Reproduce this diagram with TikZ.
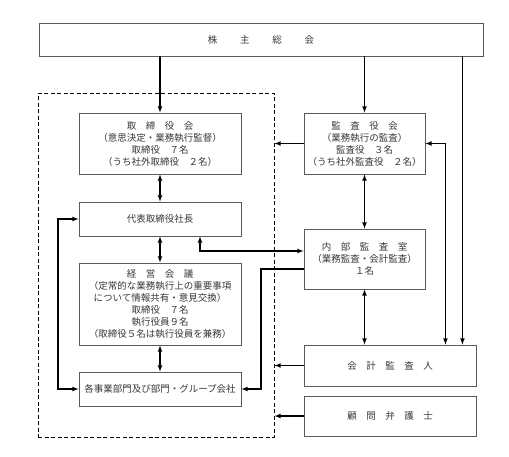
\documentclass[tikz,border=0pt]{standalone}
\usepackage{fontspec}
\setmainfont{Noto Sans CJK JP}
\usepackage{tikz}
\usetikzlibrary{positioning,arrows}

\definecolor{waku}{RGB}{90,90,90}
\definecolor{moji}{RGB}{55,55,55}

\begin{document}
\begin{tikzpicture}[x = 1pt, y = -1pt, >=latex,
  box/.style = {draw = waku, line width = .9pt, align = center, text = moji, inner sep = 2pt,
    font = \fontsize{9.5}{12}\selectfont},
  line/.style = {line width = 1.1pt, black}]
\useasboundingbox (0,0) rectangle (509,456);
\node[box, minimum width = 236, minimum height = 344, draw = black, dash pattern = on 4pt off 2.5pt, line width = 1pt] (shikko) at (156,265) {};
\node[box, minimum width = 444, minimum height = 33] (kabunushi) at (261,39.5) {株\hspace{2.4em}主\hspace{2.4em}総\hspace{2.4em}会};
\node[box, minimum width = 162, minimum height = 61] (torikai) at (160,143.5) {取　締　役　会\\（意思決定・業務執行監督）\\取締役　７名\\（うち社外取締役　２名）};
\node[box, minimum width = 162, minimum height = 34] (daihyo) at (160,219) {代表取締役社長};
\node[box, minimum width = 162, minimum height = 82] (keiei) at (160,304) {経　営　会　議\\（定常的な業務執行上の重要事項\\について情報共有・意見交換）\\取締役　７名\\執行役員９名\\（取締役５名は執行役員を兼務）};
\node[box, minimum width = 162, minimum height = 34] (jigyo) at (160,389) {各事業部門及び部門・グループ会社};
\node[box, minimum width = 121, minimum height = 61] (kansakai) at (364.5,143.5) {監　査　役　会\\（業務執行の監査）\\監査役　３名\\（うち社外監査役　２名）};
\node[box, minimum width = 121, minimum height = 60] (naibu) at (364.5,259) {内　部　監　査　室\\（業務監査・会計監査）\\１名};
\node[box, minimum width = 172, minimum height = 41] (kaikei) at (390,365.5) {会　計　監　査　人};
\node[box, minimum width = 172, minimum height = 40] (komon) at (390,416) {顧　問　弁　護　士};
\coordinate (hidari) at (58,300);
\coordinate (naka) at (261,330);
\coordinate (kaikeiA) at ([xshift=-14pt]kaikei.north east);
\coordinate (kaikeiB) at ([xshift=-31pt]kaikei.north east);
\draw[->, line] (torikai.north |- kabunushi.south) -- (torikai.north);
\draw[->, line] (kansakai.north |- kabunushi.south) -- (kansakai.north);
\draw[->, line] (kaikeiA |- kabunushi.south) -- (kaikeiA);
\draw[<->, line] (kansakai.east) -| (kaikeiB);
\draw[<->, line] (torikai.south) -- (daihyo.north);
\draw[<->, line] (daihyo.south) -- (keiei.north);
\draw[<->, line] (keiei.south) -- (jigyo.north);
\draw[<->, line] (daihyo.west) -| (hidari) |- (jigyo.west);
\draw[->, line] (kansakai.west) -- (kansakai.west -| shikko.east);
\draw[<->, line] (kansakai.south) -- (naibu.north);
\draw[<->, line] ([xshift=40pt]daihyo.south) |- ([yshift=8pt]naibu.west);
\draw[->, line] ([yshift=-10pt]naibu.west) -| (naka) |- (jigyo.east);
\draw[<->, line] (naibu.south) -- (naibu.south |- kaikei.north);
\draw[->, line] (kaikei.west) -- (kaikei.west -| shikko.east);
\draw[->, line] (komon.west) -- (komon.west -| shikko.east);
\end{tikzpicture}
\end{document}
